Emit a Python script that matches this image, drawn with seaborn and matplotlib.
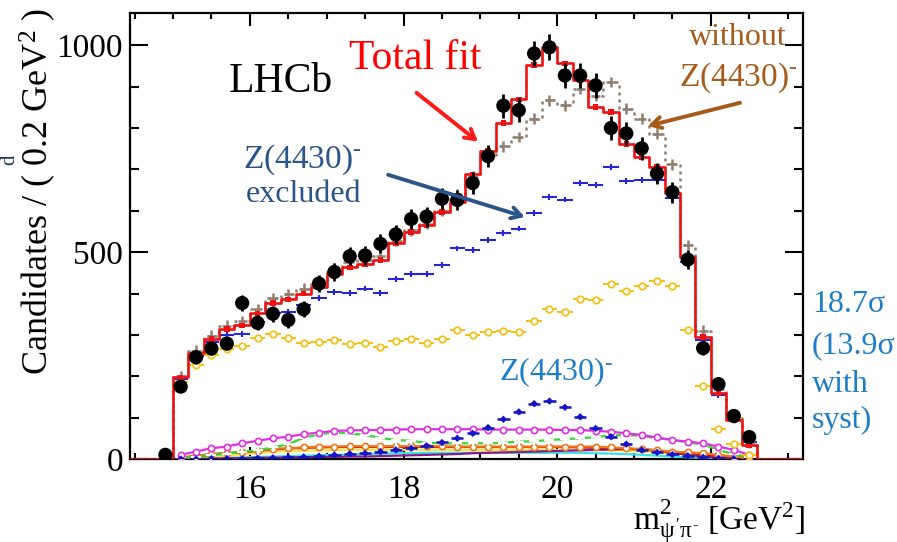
import numpy as np
import pandas as pd
import matplotlib
matplotlib.use("Agg")
import matplotlib.pyplot as plt
from matplotlib.ticker import MultipleLocator, FixedLocator
import seaborn as sns

# ---------------------------------------------------------------- data
bin_centers = [15.1, 15.3, 15.5, 15.7, 15.9, 16.1, 16.3, 16.5, 16.7, 16.9,
               17.1, 17.3, 17.5, 17.7, 17.9, 18.1, 18.3, 18.5, 18.7, 18.9,
               19.1, 19.3, 19.5, 19.7, 19.9, 20.1, 20.3, 20.5, 20.7, 20.9,
               21.1, 21.3, 21.5, 21.7, 21.9, 22.1, 22.3, 22.5]

data_x = [14.9] + bin_centers
data_y = [10, 175, 246, 267, 279, 377, 329, 351, 336, 362, 424,
          452, 490, 492, 520, 543, 580, 586, 629, 626, 667,
          732, 854, 843, 980, 995, 927, 927, 903, 800, 787,
          751, 690, 645, 482, 268, 181, 104, 53]

total_fit = [197, 255, 290, 314, 323, 352, 377, 386, 400, 415,
             448, 463, 471, 481, 522, 549, 565, 597, 622, 688,
             745, 812, 869, 952, 996, 956, 915, 851, 839, 762,
             730, 706, 642, 489, 295, 159, 94, 33]

fit_without_z = [200, 262, 298, 322, 333, 362, 388, 398, 412, 428,
                 460, 475, 482, 490, 528, 553, 568, 600, 640, 682,
                 732, 756, 778, 823, 867, 855, 895, 878, 911, 847,
                 823, 786, 712, 517, 310, 170, 100, 40]

z_excluded = [193, 250, 283, 300, 302, 330, 352, 356, 372, 389,
              404, 402, 412, 402, 436, 447, 448, 469, 509, 505,
              529, 547, 557, 595, 634, 627, 668, 663, 706, 672,
              674, 674, 630, 477, 287, 155, 95, 40]

comp_gold = [185, 227, 252, 265, 273, 292, 302, 292, 281, 283,
             287, 277, 281, 270, 286, 289, 281, 289, 313, 300,
             307, 310, 307, 333, 362, 356, 386, 384, 424, 407,
             418, 430, 418, 312, 177, 73, 37, 10]

comp_magenta = [10, 18, 26, 30, 38, 44, 50, 54, 60, 64,
                68, 69, 70, 70, 71, 72, 72, 72, 72, 72,
                71, 71, 71, 71, 71, 70, 70, 68, 66, 62,
                58, 52, 46, 42, 38, 30, 22, 10]

comp_green = [2, 5, 9, 13, 17, 21, 28, 36, 51, 60,
              64, 62, 58, 51, 46, 44, 39, 38, 38, 38,
              38, 39, 42, 43, 46, 48, 50, 53, 57, 58,
              56, 50, 46, 40, 35, 22, 12, 4]

comp_orange = [4, 8, 12, 15, 17, 20, 25, 26, 28, 30,
               30, 31, 31, 31, 31, 31, 31, 31, 30, 30,
               30, 30, 30, 30, 30, 30, 30, 30, 28, 26,
               24, 21, 18, 16, 14, 10, 6, 2]

comp_darkred = [3, 7, 11, 14, 16, 19, 23, 25, 27, 28,
                29, 29, 29, 29, 29, 29, 29, 29, 29, 29,
                29, 29, 29, 29, 29, 29, 28, 27, 26, 25,
                23, 20, 17, 14, 11, 8, 5, 2]

comp_lightyellow = [1, 3, 5, 8, 11, 14, 17, 19, 20, 21,
                    22, 22, 22, 22, 22, 22, 22, 22, 22, 22,
                    22, 22, 22, 22, 22, 22, 22, 22, 21, 20,
                    18, 16, 13, 10, 7, 4, 2, 1]

comp_cyan = [0, 1, 2, 3, 4, 5, 6, 7, 8, 9,
             10, 11, 12, 13, 14, 14, 15, 15, 15, 15,
             15, 15, 15, 15, 15, 15, 15, 14, 13, 12,
             10, 8, 6, 4, 3, 2, 1, 0]

comp_purple = [0, 1, 1, 2, 2, 3, 3, 4, 4, 5,
               5, 6, 6, 7, 8, 9, 10, 11, 12, 14,
               15, 16, 17, 18, 19, 20, 21, 22, 23, 24,
               24, 21, 16, 10, 6, 3, 2, 1]

comp_z4430 = [0, 0, 1, 1, 1, 2, 3, 4, 5, 7,
              10, 13, 14, 18, 22, 26, 32, 40, 50, 62,
              76, 96, 114, 134, 140, 125, 102, 74, 54, 36,
              22, 16, 11, 8, 4, 2, 1, 1]

x_ticks = [16, 18, 20, 22]
y_ticks = [0, 500, 1000]

fits = pd.DataFrame({"m2": bin_centers, "total": total_fit,
                     "no_z": fit_without_z})

# ---------------------------------------------------------------- style
sns.set_style("ticks")
plt.rcParams["font.family"] = ["Liberation Serif", "DejaVu Serif"]
plt.rcParams["mathtext.fontset"] = "custom"
plt.rcParams["mathtext.rm"] = "Liberation Serif"
plt.rcParams["mathtext.it"] = "Liberation Serif"
plt.rcParams["mathtext.bf"] = "Liberation Serif:bold"

W, H = 897, 542
fig = plt.figure(figsize=(W / 100, H / 100), dpi=100)
ax = fig.add_axes([130 / W, 1 - 459 / H, (803 - 130) / W, (459 - 13) / H])


def fpos(px, py):
    return px / W, 1 - py / H


edges = [round(14.4 + 0.2 * k, 1) for k in range(45)]

# small fit components at the bottom
lines_spec = [
    (comp_cyan, "#39e0e6", None),
    (comp_lightyellow, "#f4e84a", None),
    (comp_purple, "#8a1a8a", None),
    (comp_darkred, "#c81414", None),
    (comp_orange, "#f07818", "o"),
    (comp_green, "#3cd23c", "+"),
    (comp_magenta, "#e030e0", "o"),
]
for vals, col, mk in lines_spec:
    kw = dict(color=col, linewidth=1.6, ax=ax, zorder=3)
    if mk == "o":
        kw.update(marker="o", markersize=4.5, markerfacecolor="white",
                  markeredgecolor=col, markeredgewidth=1.2)
    elif mk == "+":
        kw.update(marker="+", markersize=7, markeredgewidth=1.5)
    sns.lineplot(x=bin_centers, y=vals, **kw)

# Z(4430)- contribution
ax.errorbar(bin_centers, comp_z4430, xerr=0.08, yerr=5, fmt="none",
            ecolor="#1414c8", elinewidth=1.8, zorder=4)
sns.scatterplot(x=bin_centers, y=comp_z4430, marker="D", s=14,
                color="#1414c8", edgecolor="none", ax=ax, zorder=4)

# gold component
ax.errorbar(bin_centers, comp_gold, xerr=0.1, fmt="none",
            ecolor="#f2c21c", elinewidth=1.5, zorder=4)
sns.scatterplot(x=bin_centers, y=comp_gold, marker="o", s=22,
                facecolor="white", edgecolor="#f2c21c", linewidth=1.3,
                ax=ax, zorder=5)

# fit with Z(4430)- excluded
ax.errorbar(bin_centers, z_excluded, xerr=0.1, yerr=7, fmt="none",
            ecolor="#2626d6", elinewidth=1.5, zorder=5)

# fit without Z(4430)-
brown = "#8f7f70"
sns.histplot(data=fits, x="m2", weights="no_z", bins=edges, element="step",
             fill=False, color=brown, linewidth=1.8, linestyle=(0, (1.2, 1.6)),
             ax=ax, zorder=5)
ax.errorbar(bin_centers, fit_without_z, xerr=0.06, yerr=13, fmt="none",
            ecolor=brown, elinewidth=1.8, zorder=5)

# total fit
sns.histplot(data=fits, x="m2", weights="total", bins=edges, element="step",
             fill=False, color="#ee1111", linewidth=1.9, ax=ax, zorder=6)
sns.scatterplot(x=bin_centers, y=total_fit, marker="s", s=16, color="#ee1111",
                edgecolor="none", ax=ax, zorder=6)

# data
ax.errorbar(data_x, data_y, yerr=np.sqrt(data_y), fmt="none",
            ecolor="black", elinewidth=2.0, zorder=7)
sns.scatterplot(x=data_x, y=data_y, s=105, color="black", edgecolor="none",
                ax=ax, zorder=8)

# ---------------------------------------------------------------- axes
ax.set_xlim(14.44, 23.2)
ax.set_ylim(0, 1078)
ax.set_xlabel("")
ax.set_ylabel("")
ax.xaxis.set_major_locator(FixedLocator(x_ticks))
ax.yaxis.set_major_locator(FixedLocator(y_ticks))
ax.xaxis.set_minor_locator(MultipleLocator(0.5))
ax.yaxis.set_minor_locator(MultipleLocator(100))
ax.set_xticklabels([str(t) for t in x_ticks])
ax.set_yticklabels([str(t) for t in y_ticks])
for s in ax.spines.values():
    s.set_visible(True)
    s.set_linewidth(1.6)
    s.set_color("black")
ax.tick_params(axis="both", which="both", direction="in", top=True,
               right=True, color="black", width=1.5, labelsize=24,
               labelcolor="black")
ax.tick_params(axis="x", which="major", length=9, pad=11)
ax.tick_params(axis="x", which="minor", length=4.5)
ax.tick_params(axis="y", which="major", length=13, pad=5)
ax.tick_params(axis="y", which="minor", length=6.5)

fig.text(*fpos(38, 8), r"Candidates / ( 0.2 GeV$^{2}$ )", rotation=90,
         ha="center", va="top", fontsize=26, color="black")
fig.text(*fpos(805, 530), r"m$^{2}_{\psi'\pi^{\text{-}}}$ [GeV$^{2}$]",
         ha="right", va="baseline", fontsize=24, color="black")
fig.text(*fpos(0, 160), "d", rotation=90, ha="left", va="center",
         fontsize=15, color="#1d3557")

# ---------------------------------------------------------------- labels
Z_LABEL = r"Z(4430)$^{\text{-}}$"

fig.text(*fpos(281, 82), "LHCb", ha="center", va="center", fontsize=30,
         color="black")
fig.text(*fpos(415, 59), "Total fit", ha="center", va="center", fontsize=30,
         color="#ff0000")

dark_blue = "#2b5488"
fig.text(*fpos(302, 160), Z_LABEL, ha="center", va="center",
         fontsize=24, color=dark_blue)
fig.text(*fpos(304, 194), "excluded", ha="center", va="center", fontsize=23,
         color=dark_blue)

brown_txt = "#a65b1b"
fig.text(*fpos(738, 38), "without", ha="center", va="center", fontsize=23,
         color=brown_txt)
fig.text(*fpos(738, 78), Z_LABEL, ha="center", va="center",
         fontsize=24, color=brown_txt)

mid_blue = "#1f7dc4"
fig.text(*fpos(556, 372), Z_LABEL, ha="center", va="center",
         fontsize=23, color=mid_blue)
for txt, yy in [("18.7σ", 305), ("(13.9σ", 346), ("with", 384), ("syst)", 420)]:
    fig.text(*fpos(812, yy), txt, ha="left", va="center", fontsize=23,
             color=mid_blue)


def arrow(tail, head, col):
    ax.annotate("", xy=head, xytext=tail, xycoords="data", textcoords="data",
                arrowprops=dict(arrowstyle="->,head_length=0.7,head_width=0.4",
                                color=col, lw=2.8, shrinkA=0, shrinkB=0),
                zorder=9, annotation_clip=False)


arrow((18.17, 885), (18.97, 767), "#ff1a1a")
arrow((17.80, 687), (19.58, 585), dark_blue)
arrow((22.38, 861), (21.18, 805), brown_txt)

fig.savefig("out.png", dpi=100, facecolor="white")
